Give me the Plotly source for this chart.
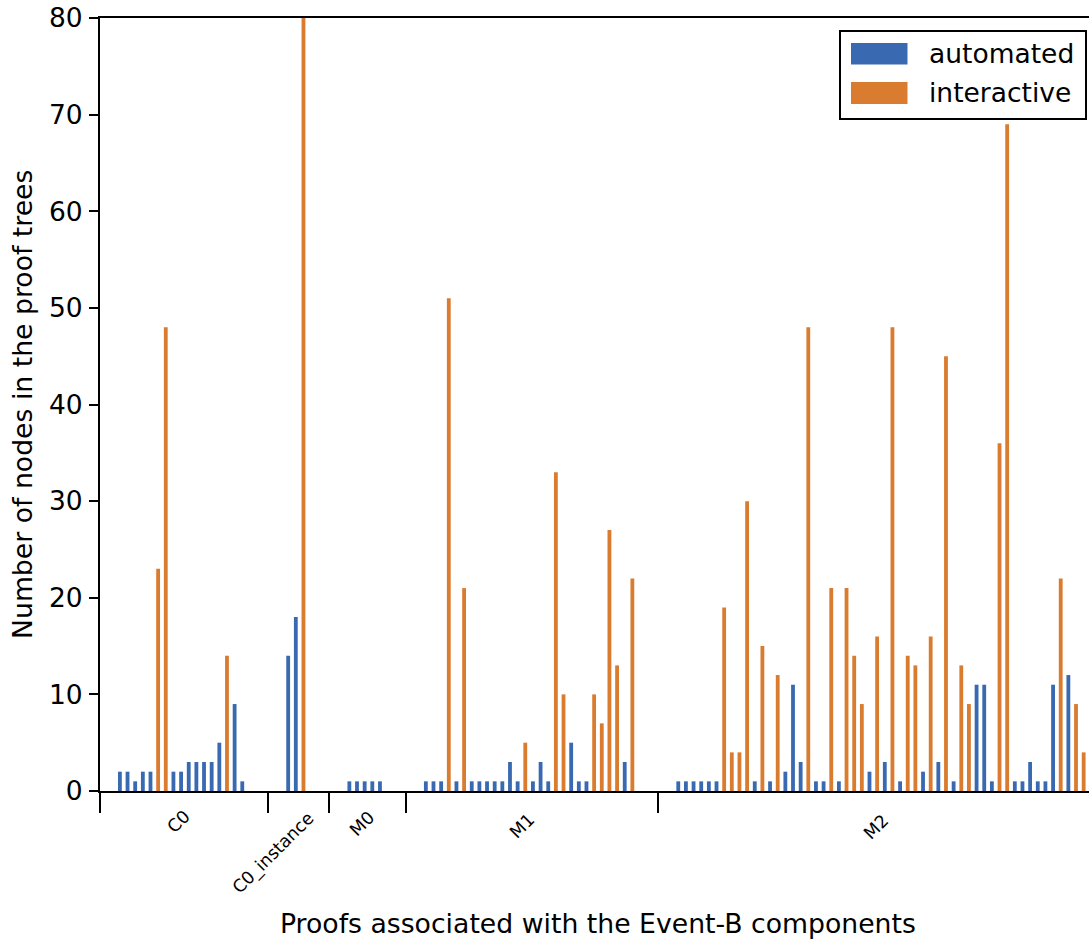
import plotly.graph_objects as go

# ---- data ----
components = ["C0", "C0_instance", "M0", "M1", "M2"]

# node counts per proof, and kind of proof: a = automated, i = interactive
C0_nodes = [2, 2, 1, 2, 2, 23, 48, 2, 2, 3, 3, 3, 3, 5, 14, 9, 1]
C0_kind = "aaaaaiiaaaaaaaiaa"

C0_instance_nodes = [14, 18, 90]
C0_instance_kind = "aai"

M0_nodes = [1, 1, 1, 1, 1]
M0_kind = "aaaaa"

M1_nodes = [1, 1, 1, 51, 1, 21, 1, 1, 1, 1, 1, 3, 1, 5, 1, 3, 1, 33, 10, 5,
            1, 1, 10, 7, 27, 13, 3, 22]
M1_kind = "aaaiaiaaaaaaaiaaaiiaaaiiiiai"

M2_nodes = [1, 1, 1, 1, 1, 1, 19, 4, 4, 30, 1, 15, 1, 12, 2, 11, 3, 48, 1, 1,
            21, 1, 21, 14, 9, 2, 16, 3, 48, 1, 14, 13, 2, 16, 3, 45, 1, 13, 9, 11,
            11, 1, 36, 69, 1, 1, 3, 1, 1, 11, 22, 12, 9, 4]
M2_kind = "aaaaaaiiiiaiaiaaaiaaiaiiiaiaiaiiaiaiaiiaaaiiaaaaaaiaii"

groups = [
    (C0_nodes, C0_kind),
    (C0_instance_nodes, C0_instance_kind),
    (M0_nodes, M0_kind),
    (M1_nodes, M1_kind),
    (M2_nodes, M2_kind),
]

series_names = {"a": "automated", "i": "interactive"}
series_colors = {"a": "#396AB1", "i": "#DA7C30"}

GAP = 6          # slot step between the last proof of a group and the first of the next
BOUND_OFF = 0.4  # small offset of the separator ticks

# ---- positions along the axis ----
xs = {"a": [], "i": []}
ys = {"a": [], "i": []}
bounds = []
mids = []
pos = 0
for gi, (vals, kinds) in enumerate(groups):
    start = pos
    bounds.append(start - GAP / 2 + BOUND_OFF)
    for v, k in zip(vals, kinds):
        xs[k].append(pos)
        ys[k].append(v)
        pos += 1
    end = pos - 1
    mids.append((start + end) / 2)
    pos = end + GAP
bounds.append(end + GAP / 2 + BOUND_OFF)

fig = go.Figure()
for k in ["a", "i"]:
    fig.add_trace(go.Bar(
        x=xs[k], y=ys[k], name=series_names[k], width=0.5,
        marker=dict(color=series_colors[k], line=dict(width=0)),
        showlegend=False,
    ))

W, H = 1089, 942
L, R, T, B = 100, 0, 18, 151
PW, PH = W - L - R, H - T - B

def px(x):
    return (x - L) / PW

def py(y):
    return (H - B - y) / PH

FONT = "DejaVu Sans"
BIG = 26.7

# group labels (rotated), offsets in pixels relative to group centre
label_shift = [-3, -23, -3, -7, -5]
label_y = [822, 853, 824, 826, 827]
annotations = []
for name, m, dx, ly in zip(components, mids, label_shift, label_y):
    annotations.append(dict(
        x=m, xref="x", y=py(ly), yref="paper", text=name, showarrow=False,
        textangle=-45, xshift=dx, xanchor="center", yanchor="middle",
        font=dict(family=FONT, size=17.5, color="black"),
    ))

# axis titles
annotations.append(dict(
    x=px(598), y=py(923), xref="paper", yref="paper",
    text="Proofs associated with the Event-B components", showarrow=False,
    xanchor="center", yanchor="middle", font=dict(family=FONT, size=BIG, color="black"),
))
annotations.append(dict(
    x=px(22), y=py(405), xref="paper", yref="paper",
    text="Number of nodes in the proof trees", showarrow=False, textangle=-90,
    xanchor="center", yanchor="middle", font=dict(family=FONT, size=BIG, color="black"),
))

# legend (drawn box)
shapes = [
    dict(type="rect", xref="paper", yref="paper", x0=px(840), x1=px(1086),
         y0=py(119), y1=py(31), fillcolor="white", line=dict(color="black", width=2),
         layer="above"),
]
leg_rows = [("a", 43, 64.5, 53), ("i", 82, 104, 93)]
for k, y0, y1, yc in leg_rows:
    shapes.append(dict(type="rect", xref="paper", yref="paper", x0=px(851), x1=px(907.5),
                       y0=py(y1), y1=py(y0), fillcolor=series_colors[k],
                       line=dict(width=0), layer="above"))
    annotations.append(dict(
        x=px(927), y=py(yc), xref="paper", yref="paper", text=series_names[k],
        showarrow=False, xanchor="left", yanchor="middle",
        font=dict(family=FONT, size=26.5, color="black"),
    ))

x_left = bounds[0]
x_right = x_left + PW / 7.649

fig.update_layout(
    width=W, height=H,
    margin=dict(l=L, r=R, t=T, b=B, pad=0),
    plot_bgcolor="white", paper_bgcolor="white",
    barmode="overlay",
    font=dict(family=FONT, color="black"),
    xaxis=dict(
        range=[x_left, x_right], showgrid=False, zeroline=False,
        showline=True, linecolor="black", linewidth=2, mirror=True,
        ticks="outside", tickvals=bounds, ticktext=[""] * len(bounds),
        ticklen=20, tickwidth=2, tickcolor="black",
    ),
    yaxis=dict(
        range=[0, 80], tick0=0, dtick=10, showgrid=False, zeroline=False,
        showline=True, linecolor="black", linewidth=2,
        ticks="outside", ticklen=9, tickwidth=2, tickcolor="black",
        tickfont=dict(family=FONT, size=26.5, color="black"),
        ticklabelstandoff=1,
    ),
    shapes=shapes,
    annotations=annotations,
)

fig.write_html(
    "out.html",
    config={"displayModeBar": False},
    post_script="document.body.style.margin='0';document.body.style.overflow='hidden';",
)
